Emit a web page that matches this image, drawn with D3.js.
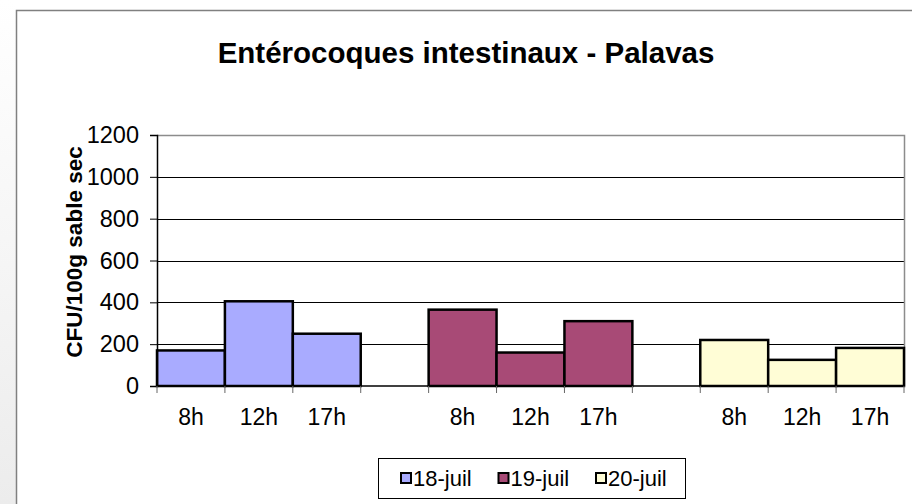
<!DOCTYPE html>
<html>
<head>
<meta charset="utf-8">
<script src="https://cdn.jsdelivr.net/npm/d3@7"></script>
<style>
  body { margin: 0; background: #fff; }
  text { font-family: "Liberation Sans", Arial, sans-serif; }
</style>
</head>
<body>
<svg id="chart" width="912" height="504"></svg>
<script>
// data
const days = ['18-juil', '19-juil', '20-juil'];
const hours = ['8h', '12h', '17h'];
const counts = [
  [170, 405, 250],
  [365, 160, 310],
  [220, 125, 182]
];
const colors = ['#a9abff', '#a84a76', '#fffdd6'];
const yTicks = [0, 200, 400, 600, 800, 1000, 1200];

const svg = d3.select('#chart');
const W = 912, H = 504;

// grey page background left of the chart frame
const grad = svg.append('defs').append('linearGradient')
    .attr('id', 'bg').attr('x1', 0).attr('y1', 0).attr('x2', 0).attr('y2', 1);
grad.append('stop').attr('offset', 0).attr('stop-color', '#ffffff');
grad.append('stop').attr('offset', 1).attr('stop-color', '#ececec');
svg.append('rect').attr('x', 0).attr('y', 0).attr('width', 16).attr('height', H)
    .attr('fill', 'url(#bg)');

// chart frame
svg.append('rect')
    .attr('x', 16.5).attr('y', 10.5).attr('width', W + 10).attr('height', H)
    .attr('fill', '#fff').attr('stroke', '#808080').attr('stroke-width', 1.5);

const plot = { left: 157, right: 904, top: 135, bottom: 386 };

// 11 slots: three hours per day, with an empty slot between days
const slots = [];
days.forEach((d, i) => {
  if (i > 0) slots.push('gap' + i);
  hours.forEach(h => slots.push(d + '|' + h));
});

const x = d3.scaleBand().domain(slots).range([plot.left, plot.right]).padding(0);
const y = d3.scaleLinear().domain([0, 1200]).range([plot.bottom, plot.top]);

// gridlines
svg.append('g').selectAll('line')
    .data(yTicks.filter(t => t > 0 && t < 1200))
    .join('line')
    .attr('x1', plot.left).attr('x2', plot.right)
    .attr('y1', d => Math.round(y(d)) + 0.5).attr('y2', d => Math.round(y(d)) + 0.5)
    .attr('stroke', '#000').attr('stroke-width', 1);

// plot area border (top / right grey)
svg.append('path')
    .attr('d', `M${plot.left},${plot.top + 0.5}H${plot.right + 0.5}V${plot.bottom}`)
    .attr('fill', 'none').attr('stroke', '#8c8c8c').attr('stroke-width', 1.5);

// bars
const bars = [];
days.forEach((d, i) => hours.forEach((h, j) => bars.push({ day: i, key: d + '|' + h, v: counts[i][j] })));
svg.append('g').selectAll('rect')
    .data(bars)
    .join('rect')
    .attr('x', d => x(d.key))
    .attr('y', d => y(d.v))
    .attr('width', x.bandwidth())
    .attr('height', d => y(0) - y(d.v))
    .attr('fill', d => colors[d.day])
    .attr('stroke', '#000').attr('stroke-width', 2.5);

// y axis
const yAxis = svg.append('g')
    .attr('transform', `translate(${plot.left},0)`)
    .call(d3.axisLeft(y).tickValues(yTicks).tickFormat(d3.format('d')).tickSize(7).tickPadding(11));
yAxis.select('.domain').attr('stroke', '#000').attr('stroke-width', 1.5);
yAxis.selectAll('.tick line').attr('stroke', '#000');
yAxis.selectAll('text').attr('font-size', 23.5).attr('fill', '#000');

// x axis: ticks at slot boundaries
const xAxis = svg.append('g').attr('transform', `translate(0,${plot.bottom})`);
xAxis.append('line').attr('x1', plot.left).attr('x2', plot.right)
    .attr('stroke', '#000').attr('stroke-width', 1.5);
xAxis.selectAll('line.tk')
    .data(slots.concat(['end']))
    .join('line').attr('class', 'tk')
    .attr('x1', (d, i) => plot.left + i * x.step()).attr('x2', (d, i) => plot.left + i * x.step())
    .attr('y1', 0).attr('y2', 7)
    .attr('stroke', '#666');
xAxis.selectAll('text')
    .data(slots.filter(s => !s.startsWith('gap')))
    .join('text')
    .attr('x', d => x(d) + x.bandwidth() / 2)
    .attr('y', 39)
    .attr('text-anchor', 'middle')
    .attr('font-size', 23)
    .text(d => d.split('|')[1]);

// title
svg.append('text')
    .attr('x', 466).attr('y', 63)
    .attr('text-anchor', 'middle')
    .attr('font-size', 29.5).attr('font-weight', 'bold')
    .text('Entérocoques intestinaux - Palavas');

// y axis title
svg.append('text')
    .attr('transform', 'translate(82,252) rotate(-90)')
    .attr('text-anchor', 'middle')
    .attr('font-size', 22.5).attr('font-weight', 'bold')
    .text('CFU/100g sable sec');

// legend
const legend = svg.append('g').attr('transform', 'translate(378,458)');
legend.append('rect').attr('x', 0.5).attr('y', 0.5).attr('width', 307).attr('height', 40)
    .attr('fill', '#fff').attr('stroke', '#000').attr('stroke-width', 1);
const item = legend.selectAll('g.item')
    .data(days)
    .join('g').attr('class', 'item')
    .attr('transform', (d, i) => `translate(${23 + i * 97.5},15)`);
item.append('rect').attr('width', 10).attr('height', 10)
    .attr('fill', (d, i) => colors[i]).attr('stroke', '#000').attr('stroke-width', 2);
item.append('text').attr('x', 12).attr('y', 12.5)
    .attr('font-size', 22)
    .text(d => d);
</script>
</body>
</html>
